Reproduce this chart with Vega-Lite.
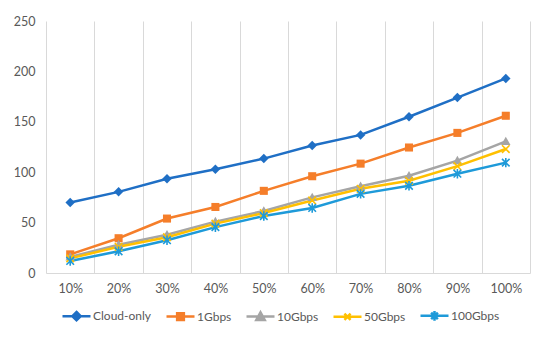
{
  "$schema": "https://vega.github.io/schema/vega-lite/v6.json",
  "autosize": {"type": "none"},
  "padding": {"left": 46, "top": 21, "right": 20, "bottom": 70},
  "width": 484,
  "height": 252,
  "background": "white",
  "data": {"values": [
    {"x": "10%", "series": "Cloud-only", "v": 70}, {"x": "20%", "series": "Cloud-only", "v": 80.5}, {"x": "30%", "series": "Cloud-only", "v": 93.5}, {"x": "40%", "series": "Cloud-only", "v": 103}, {"x": "50%", "series": "Cloud-only", "v": 113.5}, {"x": "60%", "series": "Cloud-only", "v": 126.5}, {"x": "70%", "series": "Cloud-only", "v": 137}, {"x": "80%", "series": "Cloud-only", "v": 155}, {"x": "90%", "series": "Cloud-only", "v": 174}, {"x": "100%", "series": "Cloud-only", "v": 193},
    {"x": "10%", "series": "1Gbps", "v": 18.5}, {"x": "20%", "series": "1Gbps", "v": 34.5}, {"x": "30%", "series": "1Gbps", "v": 54}, {"x": "40%", "series": "1Gbps", "v": 65.5}, {"x": "50%", "series": "1Gbps", "v": 81.5}, {"x": "60%", "series": "1Gbps", "v": 96}, {"x": "70%", "series": "1Gbps", "v": 108.5}, {"x": "80%", "series": "1Gbps", "v": 124.5}, {"x": "90%", "series": "1Gbps", "v": 139}, {"x": "100%", "series": "1Gbps", "v": 156},
    {"x": "10%", "series": "10Gbps", "v": 16}, {"x": "20%", "series": "10Gbps", "v": 28}, {"x": "30%", "series": "10Gbps", "v": 38}, {"x": "40%", "series": "10Gbps", "v": 51}, {"x": "50%", "series": "10Gbps", "v": 61.5}, {"x": "60%", "series": "10Gbps", "v": 75}, {"x": "70%", "series": "10Gbps", "v": 86}, {"x": "80%", "series": "10Gbps", "v": 96.5}, {"x": "90%", "series": "10Gbps", "v": 111.5}, {"x": "100%", "series": "10Gbps", "v": 130.5},
    {"x": "10%", "series": "50Gbps", "v": 14.5}, {"x": "20%", "series": "50Gbps", "v": 26}, {"x": "30%", "series": "50Gbps", "v": 35.5}, {"x": "40%", "series": "50Gbps", "v": 49}, {"x": "50%", "series": "50Gbps", "v": 59.5}, {"x": "60%", "series": "50Gbps", "v": 72}, {"x": "70%", "series": "50Gbps", "v": 83.5}, {"x": "80%", "series": "50Gbps", "v": 91.5}, {"x": "90%", "series": "50Gbps", "v": 106}, {"x": "100%", "series": "50Gbps", "v": 123},
    {"x": "10%", "series": "100Gbps", "v": 12}, {"x": "20%", "series": "100Gbps", "v": 21.5}, {"x": "30%", "series": "100Gbps", "v": 32.5}, {"x": "40%", "series": "100Gbps", "v": 45.5}, {"x": "50%", "series": "100Gbps", "v": 56.5}, {"x": "60%", "series": "100Gbps", "v": 64.5}, {"x": "70%", "series": "100Gbps", "v": 78.5}, {"x": "80%", "series": "100Gbps", "v": 86.5}, {"x": "90%", "series": "100Gbps", "v": 98.5}, {"x": "100%", "series": "100Gbps", "v": 109.5}
  ]},
  "encoding": {
    "x": {
      "field": "x", "type": "ordinal", "sort": null, "title": null,
      "scale": {"type": "band", "paddingInner": 0, "paddingOuter": 0},
      "axis": {"labelAngle": 0, "tickBand": "extent", "grid": true, "gridColor": "#D9D9D9", "gridWidth": 1, "ticks": false, "domainColor": "#D9D9D9", "domainWidth": 1, "labelPadding": 9, "labelFont": "Lato", "labelFontSize": 12.5, "labelColor": "#595959"}
    },
    "y": {
      "field": "v", "type": "quantitative", "title": null,
      "scale": {"domain": [0, 250], "nice": false},
      "axis": {"values": [0, 50, 100, 150, 200, 250], "grid": false, "domain": false, "ticks": false, "labelPadding": 11, "labelFont": "Lato", "labelFontSize": 12.5, "labelColor": "#595959"}
    },
    "color": {"field": "series", "type": "nominal", "sort": null,
      "scale": {"domain": ["Cloud-only", "1Gbps", "10Gbps", "50Gbps", "100Gbps"], "range": ["#1F6FC5", "#F57E2A", "#A5A5A5", "#FFC000", "#1E9AD9"]},
      "legend": {
        "title": null, "orient": "none", "legendX": 15, "legendY": 279, "direction": "horizontal",
        "symbolSize": 784, "symbolStrokeWidth": 2.5, "symbolOpacity": 1, "columnPadding": 9, "labelOffset": 1,
        "labelFont": "Lato", "labelFontSize": 12, "labelColor": "#595959"
      }
    }
  },
  "layer": [
    {"mark": {"type": "line", "strokeWidth": 2.5}},
    {
      "transform": [{"filter": "datum.series === 'Cloud-only'"}],
      "mark": {"type": "point", "filled": true, "opacity": 1, "size": 90, "shape": "M0,-1L1,0L0,1L-1,0Z"}
    },
    {
      "transform": [{"filter": "datum.series === '1Gbps'"}],
      "mark": {"type": "point", "filled": true, "opacity": 1, "size": 90, "shape": "M-0.85,-0.85H0.85V0.85H-0.85Z"}
    },
    {
      "transform": [{"filter": "datum.series === '10Gbps'"}],
      "mark": {"type": "point", "filled": true, "opacity": 1, "size": 90, "shape": "M0,-1L1,0.75H-1Z"}
    },
    {
      "transform": [{"filter": "datum.series === '50Gbps'"}],
      "mark": {"type": "point", "filled": false, "strokeWidth": 1.6, "opacity": 1, "size": 90, "shape": "M-0.8,-0.8L0.8,0.8M0.8,-0.8L-0.8,0.8"}
    },
    {
      "transform": [{"filter": "datum.series === '100Gbps'"}],
      "mark": {"type": "point", "filled": false, "strokeWidth": 1.6, "opacity": 1, "size": 90, "shape": "M-0.8,-0.8L0.8,0.8M0.8,-0.8L-0.8,0.8M0,-1L0,1"}
    },
    {
      "mark": {"type": "point", "filled": false, "opacity": 0, "size": 784, "strokeWidth": 2.5},
      "encoding": {
        "shape": {"field": "series", "type": "nominal", "sort": null,
          "scale": {"domain": ["Cloud-only", "1Gbps", "10Gbps", "50Gbps", "100Gbps"], "range": [
            "M-1,0H1M0,-0.3L0.3,0L0,0.3L-0.3,0ZM0,-0.15L0.15,0L0,0.15L-0.15,0Z",
            "M-1,0H1M-0.24,-0.24H0.24V0.24H-0.24ZM-0.1,-0.1H0.1V0.1H-0.1Z",
            "M-1,0H1M0,-0.3L0.3,0.24H-0.3ZM0,-0.1L0.12,0.12H-0.12Z",
            "M-1,0H1M-0.22,-0.22L0.22,0.22M0.22,-0.22L-0.22,0.22",
            "M-1,0H1M-0.24,-0.24L0.24,0.24M0.24,-0.24L-0.24,0.24M0,-0.34V0.34"]},
          "legend": {
            "title": null, "orient": "none", "legendX": 15, "legendY": 279, "direction": "horizontal",
            "symbolSize": 784, "symbolStrokeWidth": 2.5, "symbolOpacity": 1, "columnPadding": 9, "labelOffset": 1,
            "labelFont": "Lato", "labelFontSize": 12, "labelColor": "#595959"
          }
        }
      }
    }
  ],
  "config": {"view": {"stroke": null}}
}
